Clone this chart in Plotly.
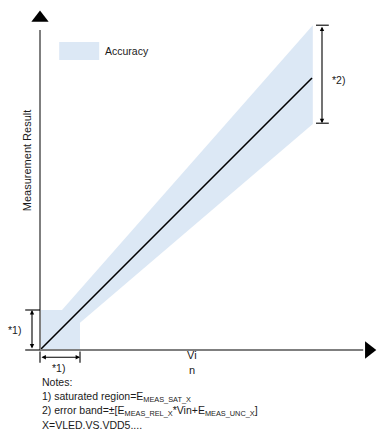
import plotly.graph_objects as go

# ---- data (units: saturation region = 1) ----
band_upper_x = [0.0, 0.0, 0.55, 6.82]
band_upper_y = [0.0, 1.0, 1.0, 8.12]
band_lower_x = [6.82, 1.0, 1.0]
band_lower_y = [5.65, 0.68, 0.0]
ideal_x = [0.0, 6.8]
ideal_y = [0.0, 6.8]
sat_x = 1.0
sat_y = 1.0
err_top = 8.12
err_bot = 5.67
err_x = 7.05

FONT = "Liberation Sans, Arial, sans-serif"
TXT = "#1a1a1a"
AX = "#7f7f7f"
BAND = "rgb(220,232,245)"

fig = go.Figure()

fig.add_trace(go.Scatter(
    x=band_upper_x + band_lower_x, y=band_upper_y + band_lower_y,
    fill="toself", fillcolor=BAND, mode="none", hoverinfo="skip", showlegend=False))

fig.add_trace(go.Scatter(x=ideal_x, y=ideal_y, mode="lines",
                         line=dict(color="black", width=1.6), showlegend=False))

# axes
x_end = 8.08
y_end = 8.0
fig.add_shape(type="line", x0=0, y0=0, x1=x_end, y1=0, line=dict(color=AX, width=2))
fig.add_shape(type="line", x0=0, y0=0, x1=0, y1=y_end, line=dict(color=AX, width=2))
fig.add_trace(go.Scatter(x=[0], y=[8.3], mode="markers",
                         marker=dict(symbol="triangle-up", size=15, color="black"),
                         showlegend=False, cliponaxis=False))
fig.add_trace(go.Scatter(x=[8.22], y=[0], mode="markers",
                         marker=dict(symbol="triangle-right", size=15, color="black"),
                         showlegend=False, cliponaxis=False))

# dimension arrows
def dim(x0, y0, x1, y1):
    fig.add_annotation(x=x1, y=y1, ax=x0, ay=y0, xref="x", yref="y", axref="x", ayref="y",
                       text="", showarrow=True, arrowhead=2, arrowside="end+start",
                       arrowsize=0.8, arrowwidth=1.1, arrowcolor="black")

def cap(x0, y0, x1, y1):
    fig.add_shape(type="line", x0=x0, y0=y0, x1=x1, y1=y1, line=dict(color="black", width=1.1))

# *1) vertical
dim(-0.2, 0, -0.2, sat_y)
cap(-0.37, 0, 0, 0)
cap(-0.37, sat_y, 0, sat_y)
# *1) horizontal
dim(0, -0.18, sat_x, -0.18)
cap(0, -0.04, 0, -0.32)
cap(sat_x, -0.04, sat_x, -0.32)
# *2)
dim(err_x, err_top, err_x, err_bot)
cap(6.9, err_top, 7.22, err_top)
cap(6.9, err_bot, 7.22, err_bot)

def txt(x, y, s, size=10.5, xanchor="center", angle=0):
    fig.add_annotation(x=x, y=y, text=s, showarrow=False, xref="x", yref="y",
                       xanchor=xanchor, yanchor="middle", textangle=angle,
                       font=dict(family=FONT, size=size, color=TXT))

txt(-0.65, 0.5, "*1)")
txt(0.45, -0.45, "*1)")
txt(7.45, 6.75, "*2)")
txt(3.8, -0.13, "Vi", size=11)
txt(3.8, -0.5, "n", size=11)
txt(-0.32, 4.75, "Measurement Result", size=11, angle=-90)

# legend
fig.add_shape(type="rect", x0=0.48, y0=7.25, x1=1.48, y1=7.7, fillcolor=BAND, line=dict(width=0))
txt(1.58, 7.48, "Accuracy", size=10.5, xanchor="left")

sub = lambda s: "<sub>" + s + "</sub>"
notes = [
    "Notes:",
    "1) saturated region=E" + sub("MEAS_SAT_X"),
    "2) error band=±[E" + sub("MEAS_REL_X") + "*Vin+E" + sub("MEAS_UNC_X") + "]",
    "X=VLED.VS.VDD5....",
]
note_y = [-0.8, -1.17, -1.52, -1.88]
for s, y in zip(notes, note_y):
    txt(0.0, y, s, size=10.5, xanchor="left")

fig.update_layout(
    width=377, height=430, margin=dict(l=0, r=0, t=0, b=0),
    paper_bgcolor="white", plot_bgcolor="white",
    xaxis=dict(range=[-1.0, 8.425], visible=False, fixedrange=True),
    yaxis=dict(range=[-2.0, 8.75], visible=False, fixedrange=True),
    showlegend=False,
)

fig.write_html(
    "out.html",
    config={"displayModeBar": False},
    post_script="document.body.style.margin='0';document.body.style.overflow='hidden';",
)
